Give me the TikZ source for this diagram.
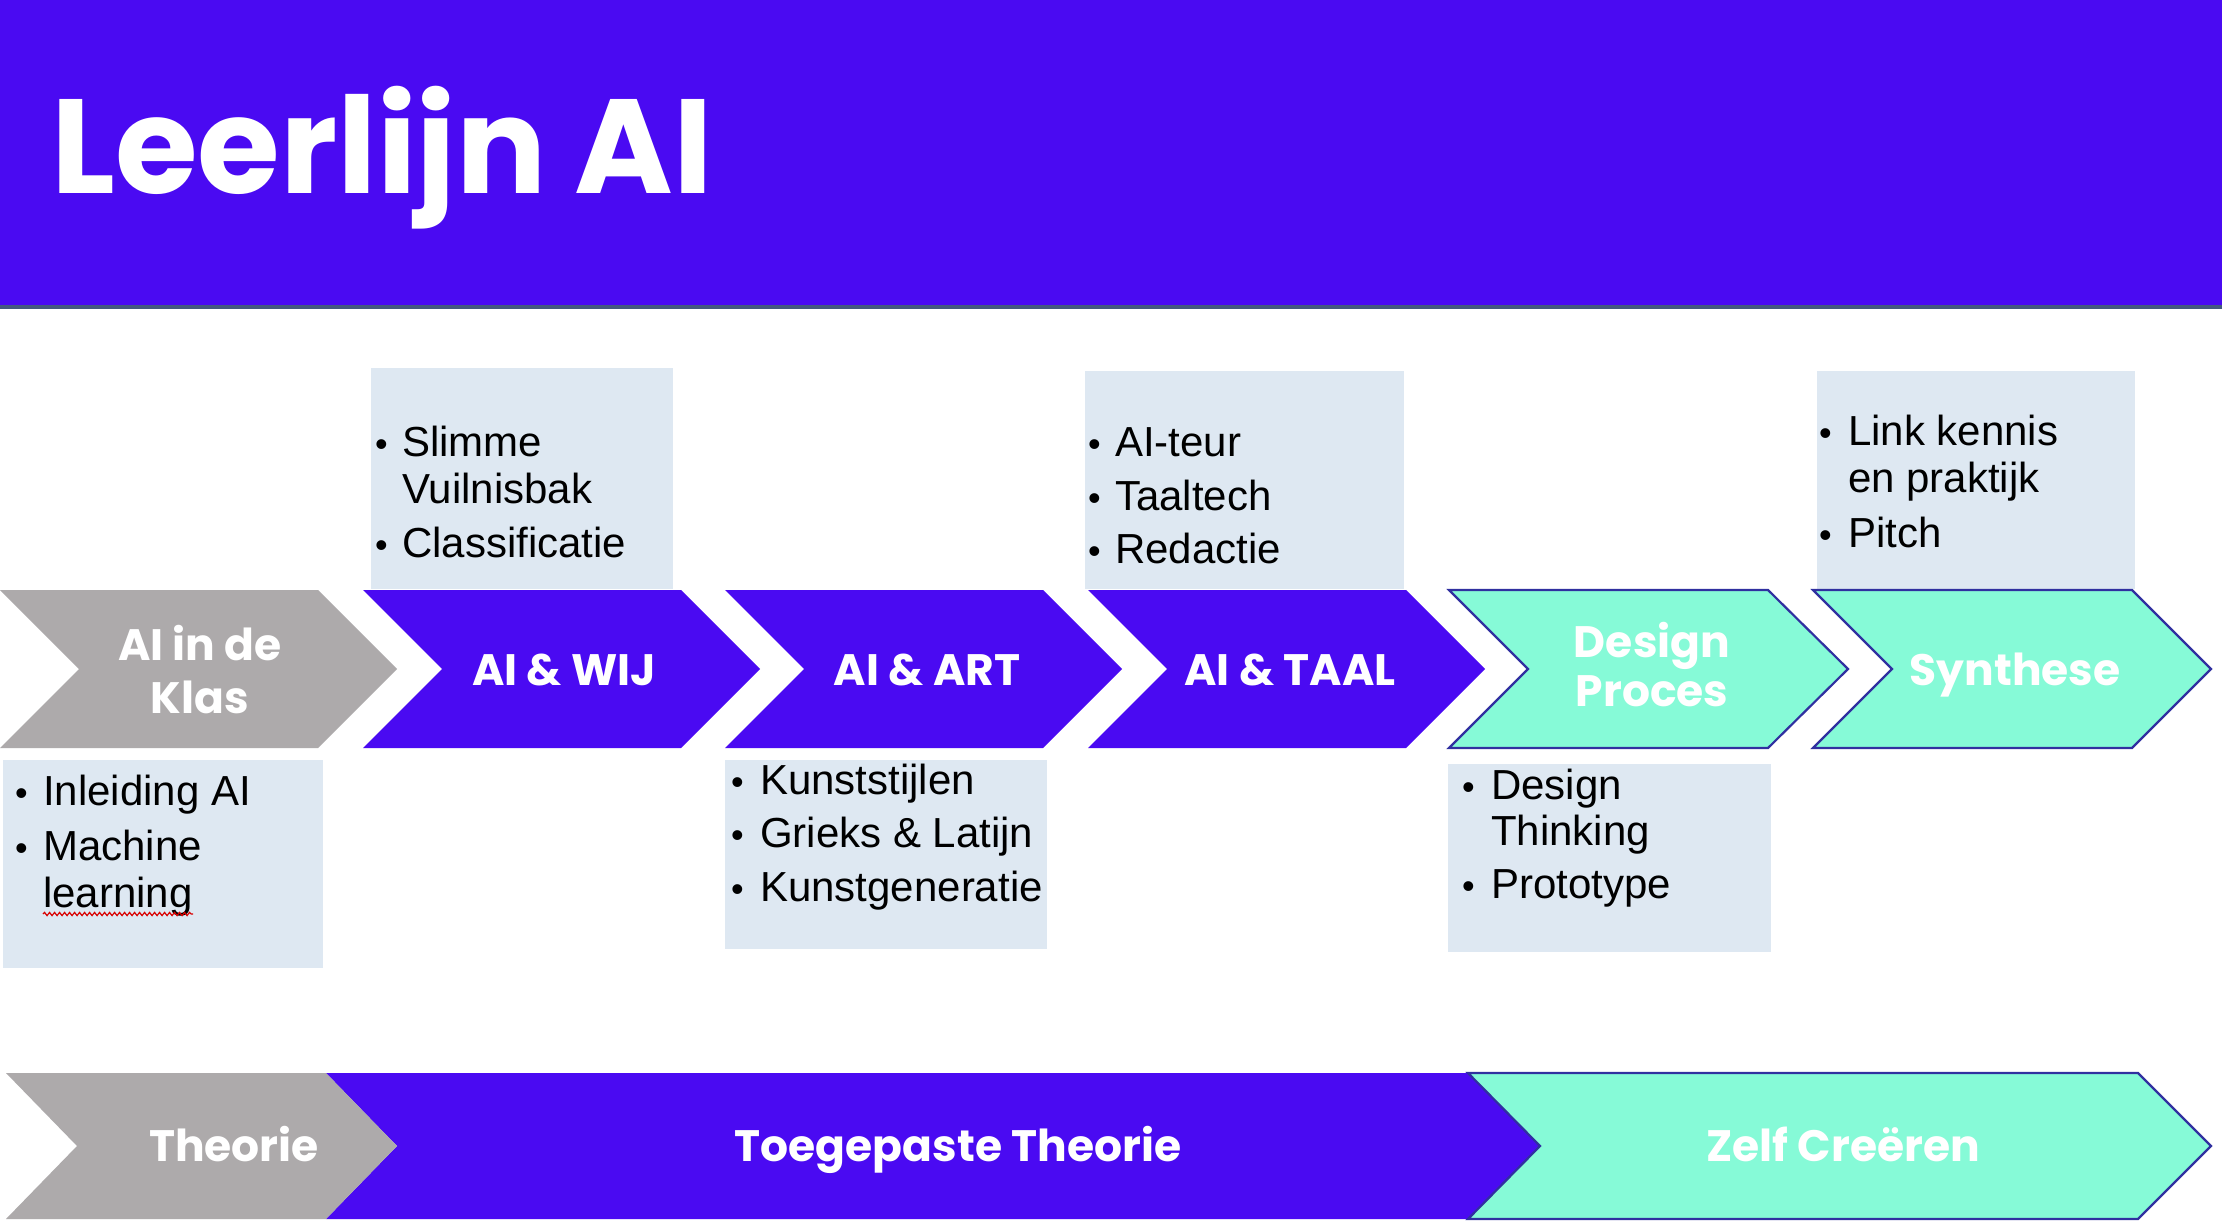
\documentclass[tikz,border=0pt]{standalone}
\usepackage{fontspec}
\setmainfont{Liberation Sans}
\newfontfamily\heavy{Poppins}
\usetikzlibrary{decorations.pathmorphing}
\definecolor{aipurple}{HTML}{4A0AF2}
\definecolor{aigrey}{HTML}{ADAAAB}
\definecolor{aimint}{HTML}{86FAD7}
\definecolor{aiborder}{HTML}{3030A0}
\definecolor{aibox}{HTML}{DEE8F2}
\definecolor{ailine}{HTML}{44597F}
\tikzset{
  infobox/.style={fill=aibox, draw=none, anchor=north west, inner sep=0pt},
  bodytxt/.style={anchor=base west, inner sep=0pt, font=\fontsize{42}{50}\selectfont, text=black},
  bul/.style={anchor=base west, inner sep=0pt, font=\fontsize{36}{50}\selectfont, text=black},
  lbl/.style={anchor=base, inner sep=0pt, text=white, font=\heavy\bfseries\fontsize{44}{52}\selectfont},
  mintchev/.style={fill=aimint, draw=aiborder, line width=2.2pt, line join=miter},
}
\begin{document}
\begin{tikzpicture}[x=1pt,y=-1pt]
\useasboundingbox (0,0) rectangle (2222,1230);
\fill[white] (0,0) rectangle (2222,1230);
% header
\fill[aipurple] (0,0) rectangle (2222,305);
\fill[ailine] (0,305) rectangle (2222,309);
\node[anchor=base west, inner sep=0pt, text=white, font=\heavy\bfseries\fontsize{134}{150}\selectfont] (title) at (51,194) {Leerlijn AI};

% info boxes
\node[infobox, minimum width=302pt, minimum height=221pt] (bwij) at (371,368) {};
\node[infobox, minimum width=319pt, minimum height=218pt] (btaal) at (1085,371) {};
\node[infobox, minimum width=318pt, minimum height=218pt] (bsyn) at (1817,371) {};
\node[infobox, minimum width=320pt, minimum height=208pt] (bklas) at (3,760) {};
\node[infobox, minimum width=322pt, minimum height=189pt] (bart) at (725,760) {};
\node[infobox, minimum width=323pt, minimum height=188pt] (bdes) at (1448,764) {};

% top chevrons
\fill[aigrey]   (0,590) -- (318,590) -- (397,669) -- (318,748) -- (0,748) -- (79,669) -- cycle;
\fill[aipurple] (363,590) -- (681,590) -- (760,669) -- (681,748) -- (363,748) -- (442,669) -- cycle;
\fill[aipurple] (725,590) -- (1043,590) -- (1122,669) -- (1043,748) -- (725,748) -- (804,669) -- cycle;
\fill[aipurple] (1088,590) -- (1406,590) -- (1485,669) -- (1406,748) -- (1088,748) -- (1167,669) -- cycle;
\draw[mintchev] (1449,590) -- (1768,590) -- (1848,669) -- (1768,748) -- (1449,748) -- (1528,669) -- cycle;
\draw[mintchev] (1813,590) -- (2132,590) -- (2211,669) -- (2132,748) -- (1813,748) -- (1892,669) -- cycle;

\node[lbl] (k1) at (200,660) {AI in de};
\node[lbl] (k2) at (200,713) {Klas};
\node[lbl] (wij) at (564,685) {AI \& WIJ};
\node[lbl] (art) at (927,685) {AI \& ART};
\node[lbl] (taal) at (1290,685) {AI \& TAAL};
\node[lbl] (d1) at (1652,657) {Design};
\node[lbl] (d2) at (1652,706) {Proces};
\node[lbl] (syn) at (2015,685) {Synthese};

% bullet texts
\node[bul] (t1a) at (15,805) {•};
\node[bodytxt] (t1b) at (43,805) {Inleiding AI};
\node[bul] (t1c) at (15,860) {•};
\node[bodytxt] (t1d) at (43,860) {Machine};
\node[bodytxt] (t1e) at (43,907) {learning};
\draw[red!85!black, line width=1.2pt, decorate, decoration={snake, amplitude=1.6pt, segment length=5pt}] (43,914) -- (193,914);

\node[bul] (t2a) at (375,456) {•};
\node[bodytxt] (t2b) at (402,456) {Slimme};
\node[bodytxt] (t2c) at (402,503) {Vuilnisbak};
\node[bul] (t2d) at (375,557) {•};
\node[bodytxt] (t2e) at (402,557) {Classificatie};

\node[bul] (t3a) at (731,794) {•};
\node[bodytxt] (t3b) at (760,794) {Kunststijlen};
\node[bul] (t3c) at (731,847) {•};
\node[bodytxt] (t3d) at (760,847) {Grieks \& Latijn};
\node[bul] (t3e) at (731,901) {•};
\node[bodytxt] (t3f) at (760,901) {Kunstgeneratie};

\node[bul] (t4a) at (1088,456) {•};
\node[bodytxt] (t4b) at (1115,456) {AI-teur};
\node[bul] (t4c) at (1088,510) {•};
\node[bodytxt] (t4d) at (1115,510) {Taaltech};
\node[bul] (t4e) at (1088,563) {•};
\node[bodytxt] (t4f) at (1115,563) {Redactie};

\node[bul] (t5a) at (1462,799) {•};
\node[bodytxt] (t5b) at (1491,799) {Design};
\node[bodytxt] (t5c) at (1491,845) {Thinking};
\node[bul] (t5d) at (1462,898) {•};
\node[bodytxt] (t5e) at (1491,898) {Prototype};

\node[bul] (t6a) at (1819,446) {•};
\node[bodytxt] (t6b) at (1848,446) {Link kennis};
\node[bodytxt] (t6c) at (1848,492) {en praktijk};
\node[bul] (t6d) at (1819,547) {•};
\node[bodytxt] (t6e) at (1848,547) {Pitch};

% bottom row
\fill[aipurple] (326,1073) -- (1468,1073) -- (1540,1146) -- (1468,1219) -- (326,1219) -- (397,1146) -- cycle;
\fill[aigrey] (6,1073) -- (326,1073) -- (397,1146) -- (326,1219) -- (6,1219) -- (77,1146) -- cycle;
\draw[mintchev] (1468,1073) -- (2138,1073) -- (2211,1146) -- (2138,1219) -- (1468,1219) -- (1540,1146) -- cycle;

\node[lbl] (theo) at (234,1161) {Theorie};
\node[lbl] (toeg) at (958,1161) {Toegepaste Theorie};
\node[lbl] (zelf) at (1843,1161) {Zelf Creëren};
\end{tikzpicture}
\end{document}
